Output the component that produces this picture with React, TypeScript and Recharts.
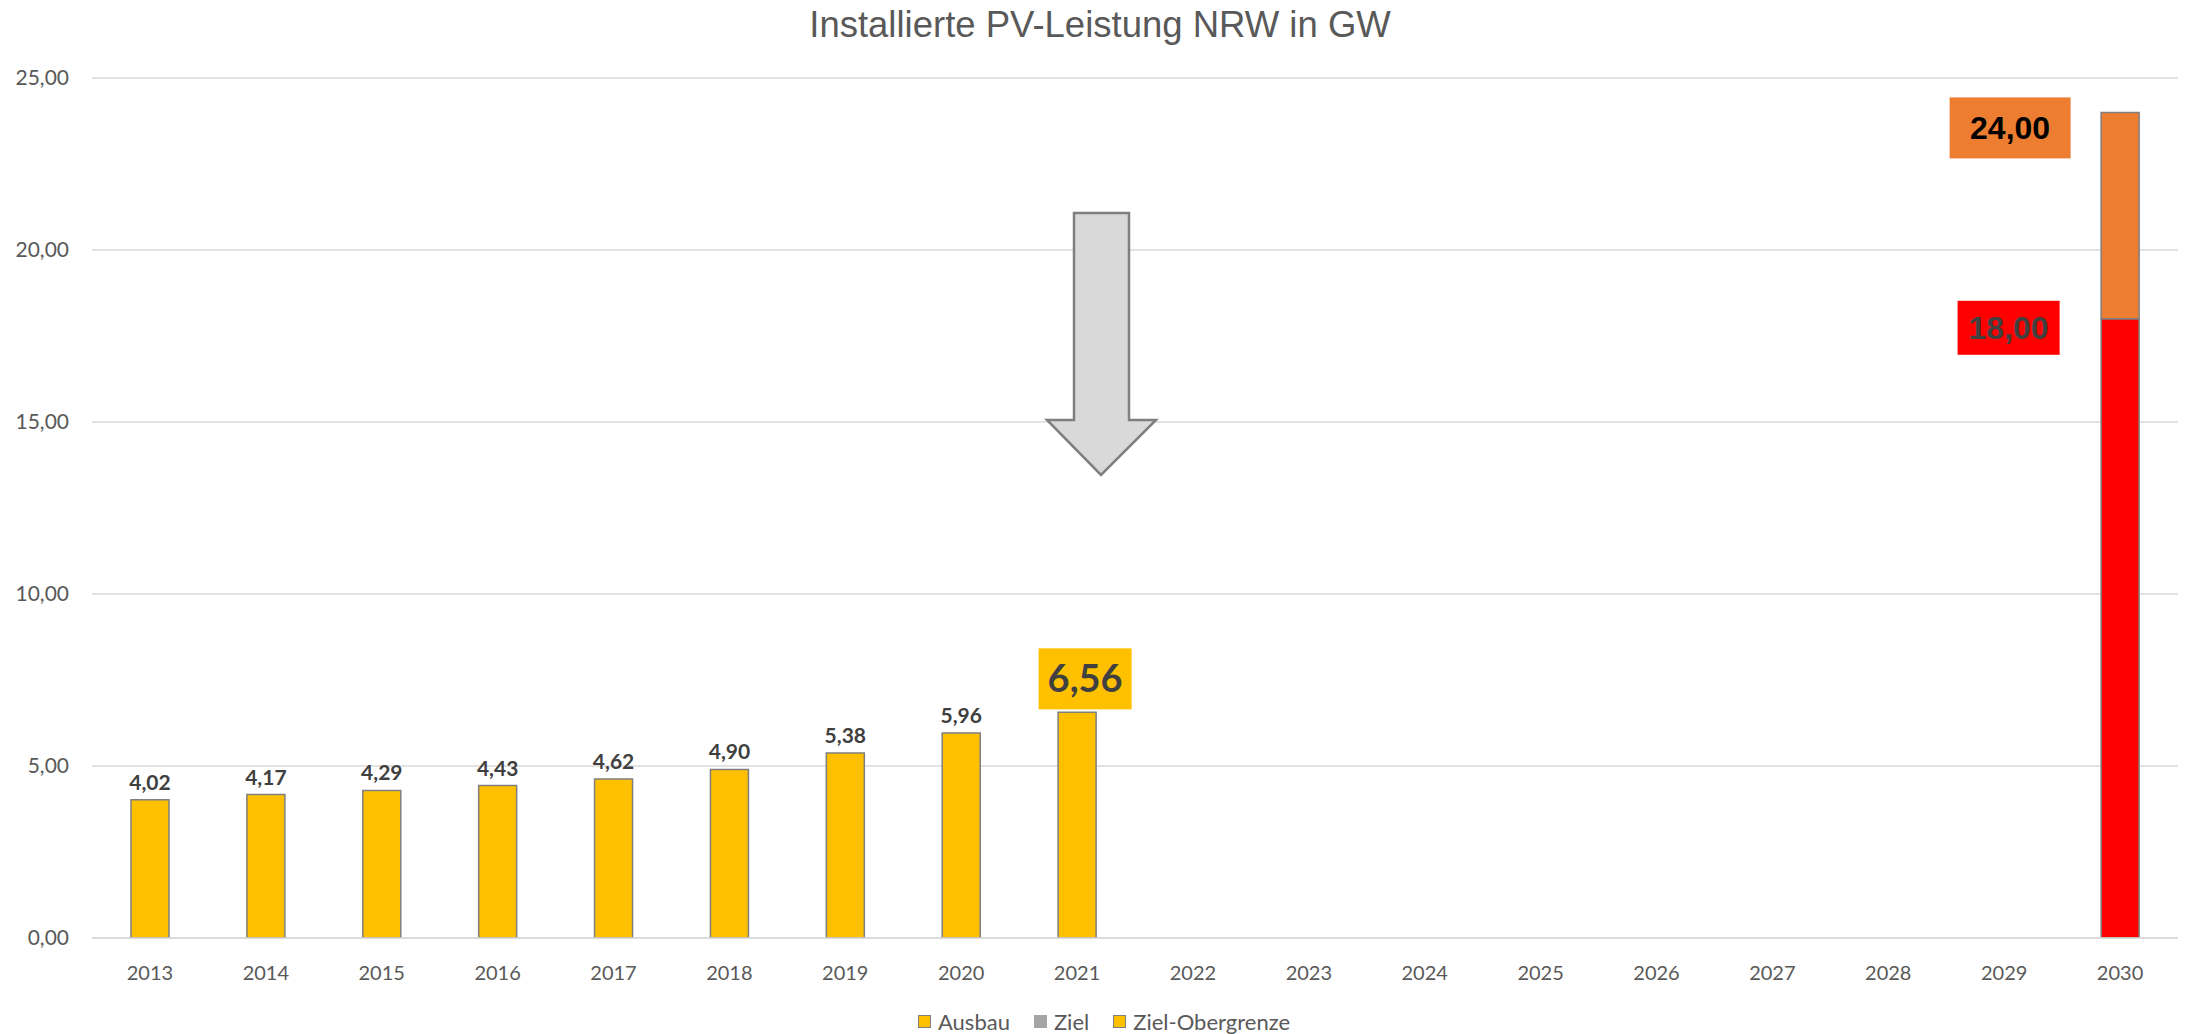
import React from "react";
import { BarChart, Bar, XAxis, YAxis, CartesianGrid, Legend, LabelList, Cell } from "recharts";

// Werte in GW
const years = ["2013", "2014", "2015", "2016", "2017", "2018", "2019", "2020", "2021",
  "2022", "2023", "2024", "2025", "2026", "2027", "2028", "2029", "2030"];
const ausbau = [4.02, 4.17, 4.29, 4.43, 4.62, 4.9, 5.38, 5.96, 6.56,
  null, null, null, null, null, null, null, null, null];
const ziel = [null, null, null, null, null, null, null, null, null,
  null, null, null, null, null, null, null, null, 18];
const zielObergrenze = [null, null, null, null, null, null, null, null, null,
  null, null, null, null, null, null, null, null, 24];
const yTicks = [0, 5, 10, 15, 20, 25];
const highlightYear = "2021";
const targetYear = "2030";

const data = years.map((year, i) => ({
  year,
  ausbau: ausbau[i],
  ziel: ziel[i],
  // gestapelt: nur der Teil oberhalb des Ziels
  obergrenze: zielObergrenze[i] != null ? (zielObergrenze[i] as number) - ((ziel[i] as number) ?? 0) : null,
  obergrenzeTotal: zielObergrenze[i],
}));

const fmt = (v: number) => v.toFixed(2).replace(".", ",");

const GRAY = "#7F7F7F";
const YELLOW = "#FFC000";
const CAL = "Lato, 'Open Sans', sans-serif";
const ARIAL = "'Liberation Sans', Arial, sans-serif";

const legendItems = [
  { name: "Ausbau", fill: YELLOW, stroke: GRAY },
  { name: "Ziel", fill: "#A5A5A5", stroke: "none" },
  { name: "Ziel-Obergrenze", fill: YELLOW, stroke: GRAY },
];

const AusbauLabel = (props: any) => {
  const { x, y, width, value, index } = props;
  if (value == null) return null;
  const cx = x + width / 2;
  if (years[index] === highlightYear) {
    return (
      <g>
        <rect x={cx - 38.5} y={y - 64} width={93} height={61} fill={YELLOW} />
        <text x={cx + 8} y={y - 20} textAnchor="middle" fontFamily={CAL} fontWeight={700}
          fontSize={38} fill="#404040">{fmt(value)}</text>
      </g>
    );
  }
  return (
    <text x={cx} y={y - 10} textAnchor="middle" fontFamily={CAL} fontWeight={700}
      fontSize={21} fill="#404040">{fmt(value)}</text>
  );
};

const ZielLabel = (props: any) => {
  const { x, y, width, value } = props;
  if (value == null) return null;
  const cx = x + width / 2;
  return (
    <g>
      <rect x={cx - 162.5} y={y - 18} width={102} height={54} fill="#FF0000" />
      <text x={cx - 111.5} y={y + 20.5} textAnchor="middle" fontFamily={ARIAL} fontWeight={700}
        fontSize={32} fill="#404040">{fmt(value)}</text>
    </g>
  );
};

const ObergrenzeLabel = (props: any) => {
  const { x, y, width, value } = props;
  if (value == null) return null;
  const cx = x + width / 2;
  return (
    <g>
      <rect x={cx - 170.5} y={y - 15} width={121} height={61} fill="#ED7D31" />
      <text x={cx - 110} y={y + 27} textAnchor="middle" fontFamily={ARIAL} fontWeight={700}
        fontSize={32} fill="#000000">{fmt(value)}</text>
    </g>
  );
};

const LegendContent = () => (
  <div style={{ display: "flex", justifyContent: "center", alignItems: "center", height: 30,
    fontFamily: CAL, fontSize: 22, color: "#595959", paddingLeft: 54 }}>
    {legendItems.map((it) => (
      <div key={it.name} style={{ display: "flex", alignItems: "center", marginRight: 24 }}>
        <span style={{ display: "inline-block", width: it.stroke === "none" ? 13 : 11, height: it.stroke === "none" ? 13 : 11,
          background: it.fill, border: it.stroke === "none" ? "none" : `1px solid ${it.stroke}`, marginRight: 7 }} />
        <span>{it.name}</span>
      </div>
    ))}
  </div>
);

export default function App() {
  return (
    <div style={{ position: "absolute", left: 0, top: 0, width: 2186, height: 1034, background: "#fff" }}>
      <BarChart width={2186} height={1034} data={data} margin={{ top: 78, right: 8, bottom: 0, left: 0 }}>
        <CartesianGrid vertical={false} stroke="#D9D9D9" strokeWidth={1.5} />
        <XAxis dataKey="year" height={66} tickLine={false} tickMargin={22}
          axisLine={{ stroke: "#D9D9D9", strokeWidth: 1.5 }}
          tick={{ fontSize: 20, fontFamily: CAL, fill: "#595959" }} interval={0} />
        <YAxis domain={[0, 25]} ticks={yTicks} tickFormatter={fmt} width={92} axisLine={false}
          tickLine={false} tickMargin={17} allowDataOverflow
          tick={{ fontSize: 21, fontFamily: CAL, fill: "#595959" }} />
        <Legend verticalAlign="bottom" content={<LegendContent />} wrapperStyle={{ top: 1006 }} />
        <Bar dataKey="ausbau" name="Ausbau" stackId="a" barSize={38} fill={YELLOW} stroke={GRAY}
          strokeWidth={1.5} isAnimationActive={false}>
          <LabelList dataKey="ausbau" content={<AusbauLabel />} />
        </Bar>
        <Bar dataKey="ziel" name="Ziel" stackId="a" barSize={38} fill="#A5A5A5" stroke={GRAY}
          strokeWidth={1.5} isAnimationActive={false}>
          {data.map((d) => (
            <Cell key={d.year} fill={d.year === targetYear ? "#FF0000" : "#A5A5A5"} />
          ))}
          <LabelList dataKey="ziel" content={<ZielLabel />} />
        </Bar>
        <Bar dataKey="obergrenze" name="Ziel-Obergrenze" stackId="a" barSize={38} fill={YELLOW}
          stroke={GRAY} strokeWidth={1.5} isAnimationActive={false}>
          {data.map((d) => (
            <Cell key={d.year} fill={d.year === targetYear ? "#ED7D31" : YELLOW} />
          ))}
          <LabelList dataKey="obergrenzeTotal" content={<ObergrenzeLabel />} />
        </Bar>
      </BarChart>
      <svg width={2186} height={1034} style={{ position: "absolute", left: 0, top: 0, pointerEvents: "none" }}>
        <text x={1100} y={37} textAnchor="middle" fontFamily={ARIAL} fontSize={36.5} fill="#595959">
          Installierte PV-Leistung NRW in GW
        </text>
        <polygon points="1074,213 1129,213 1129,420 1156,420 1101,475 1047,420 1074,420"
          fill="#D9D9D9" stroke={GRAY} strokeWidth={2.5} strokeLinejoin="miter" />
      </svg>
    </div>
  );
}
